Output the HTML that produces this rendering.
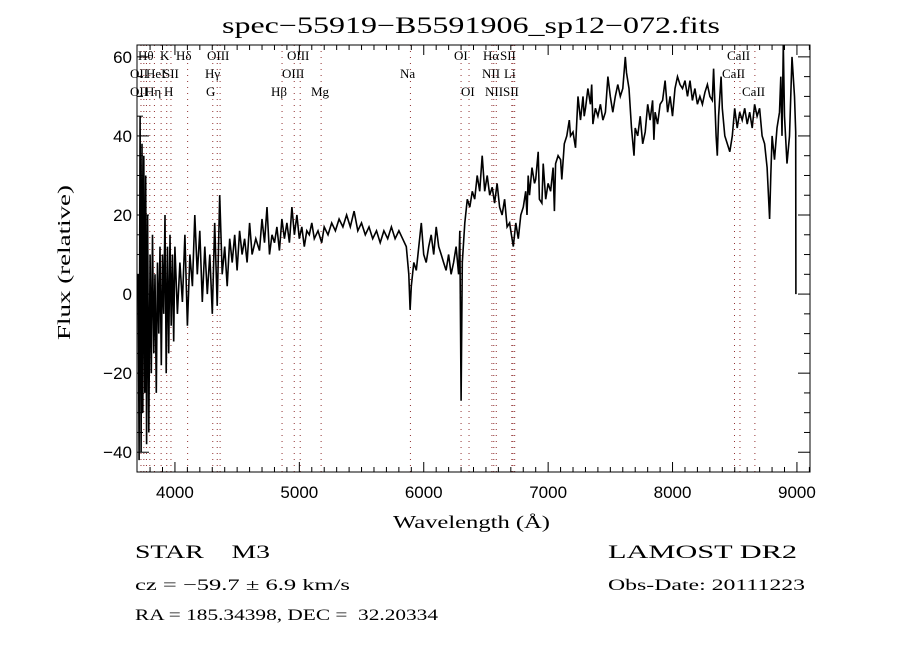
<!DOCTYPE html>
<html><head><meta charset="utf-8"><style>
body{margin:0;background:#fff;width:900px;height:650px;overflow:hidden}
svg{display:block;font-family:"Liberation Serif",serif}
</style></head><body>
<svg id="chart" width="900" height="650">
<rect width="900" height="650" fill="#fff"/>
<text x="222" y="33" textLength="498" lengthAdjust="spacingAndGlyphs" font-size="23">spec−55919−B5591906_sp12−072.fits</text>
<g id="lines"></g>
<g id="series"></g>
<g id="axes"></g>
<text x="393" y="528" textLength="157" lengthAdjust="spacingAndGlyphs" font-size="18">Wavelength (Å)</text>
<text transform="translate(70,340) rotate(-90)" textLength="155" lengthAdjust="spacingAndGlyphs" font-size="18">Flux (relative)</text>
<text x="135" y="558" textLength="135" lengthAdjust="spacingAndGlyphs" font-size="19" xml:space="preserve">STAR    M3</text>
<text x="608" y="558" textLength="189" lengthAdjust="spacingAndGlyphs" font-size="19">LAMOST  DR2</text>
<text x="135" y="590" textLength="215" lengthAdjust="spacingAndGlyphs" font-size="16">cz = −59.7 ± 6.9 km/s</text>
<text x="608" y="590" textLength="197" lengthAdjust="spacingAndGlyphs" font-size="16">Obs-Date: 20111223</text>
<text x="135" y="620" textLength="303" lengthAdjust="spacingAndGlyphs" font-size="16" xml:space="preserve">RA = 185.34398, DEC =  32.20334</text>
</svg>
<script>
const wave=[3705,3712,3720,3728,3735,3742,3750,3758,3765,3772,3780,3790,3800,3810,3820,3830,3840,3850,3860,3870,3880,3890,3900,3910,3920,3930,3940,3950,3960,3970,3980,3990,4000,4020,4040,4060,4080,4100,4120,4140,4160,4180,4200,4220,4240,4260,4280,4300,4320,4340,4360,4380,4400,4420,4440,4460,4480,4500,4520,4540,4560,4580,4600,4620,4650,4680,4700,4720,4740,4760,4780,4800,4820,4840,4860,4880,4900,4920,4940,4960,4980,5000,5020,5040,5060,5080,5100,5120,5150,5180,5200,5230,5260,5290,5320,5350,5380,5410,5440,5470,5500,5530,5560,5590,5620,5650,5680,5710,5740,5770,5800,5830,5860,5880,5890,5900,5920,5940,5960,5980,6000,6020,6040,6060,6080,6100,6120,6140,6160,6180,6200,6220,6240,6260,6280,6290,6300,6310,6330,6350,6370,6390,6410,6430,6450,6470,6490,6510,6530,6550,6570,6590,6610,6630,6650,6670,6690,6700,6720,6740,6760,6780,6800,6820,6830,6840,6850,6870,6890,6900,6920,6930,6950,6960,6980,7000,7020,7040,7050,7060,7080,7100,7110,7130,7150,7170,7180,7200,7220,7240,7260,7280,7290,7300,7320,7340,7350,7360,7380,7400,7420,7440,7460,7480,7500,7520,7540,7560,7580,7600,7620,7630,7650,7670,7690,7700,7720,7740,7760,7780,7800,7820,7840,7850,7860,7880,7900,7920,7940,7960,7980,8000,8020,8040,8060,8080,8100,8120,8140,8160,8180,8200,8220,8240,8260,8280,8300,8320,8330,8350,8360,8370,8390,8400,8420,8440,8460,8480,8500,8520,8540,8560,8580,8600,8620,8640,8660,8680,8700,8720,8740,8760,8780,8790,8800,8820,8840,8860,8870,8880,8890,8900,8920,8940,8960,8980,8990,8992];
const flux=[5,-42,45,-40,38,-30,35,-25,30,-38,20,-35,10,-20,15,-15,5,-25,8,-10,12,-18,10,-5,20,-20,12,-15,15,-8,10,-12,12,-5,8,-2,15,-8,10,2,20,5,16,-2,12,0,10,-5,18,-3,25,5,12,2,14,8,15,6,16,10,14,8,18,10,14,11,19,13,22,10,15,13,17,11,19,14,18,13,22,15,20,14,17,12,16,15,18,14,16,13,17,15,18,16,19,17,20,17,21,16,18,15,17,14,16,13,16,14,17,14,16,14,12,5,-4,2,8,6,12,18,10,8,12,15,10,17,12,10,8,6,10,5,8,12,5,16,-27,8,18,24,22,26,24,30,26,35,26,30,25,27,23,28,22,20,24,17,18,16,12,18,14,20,22,26,20,30,25,32,28,29,36,24,23,33,24,28,26,32,21,33,35,34,29,38,40,44,40,41,37,50,44,50,45,47,52,48,53,43,47,45,48,44,46,55,50,46,50,53,50,52,60,56,52,42,35,42,40,45,38,41,48,44,49,39,46,43,48,49,54,46,50,45,52,55,53,52,54,50,54,49,52,48,50,48,51,53,50,49,57,40,35,45,55,47,40,38,36,40,47,42,46,44,47,43,46,42,48,45,47,40,38,32,19,30,40,34,42,46,55,40,63,45,33,40,60,50,41,0];
const lineWaves=[3727,3750,3771,3798,3835,3889,3934,3968,4102,4304,4340,4363,4861,4959,5007,5175,5893,6300,6364,6548,6563,6583,6708,6717,6731,8498,8542,8662];
const X0=137,X1=810,Y0=45,Y1=472,W0=3695,W1=9105,F0=-45,F1=63;
const sx=w=>X0+(w-W0)/(W1-W0)*(X1-X0);
const sy=f=>Y1-(f-F0)/(F1-F0)*(Y1-Y0);
const NS='http://www.w3.org/2000/svg';
function mk(t,a,p){const e=document.createElementNS(NS,t);for(const k in a)e.setAttribute(k,a[k]);p.appendChild(e);return e;}
const lg=document.getElementById('lines');
lineWaves.forEach(w=>{const l=mk('line',{x1:sx(w),x2:sx(w),y1:Y0,y2:Y1,stroke:'#903030','stroke-width':1,'stroke-dasharray':'1,5'},lg);

});
const labels=[["Hθ",138,60],["K",160,60],["Hδ",176,60],["OIII",207,60],["OIII",287,60],["OI",454,60],["Hα",483,60],["SII",500,60],["CaII",727,60],
["OII",130,78],["HeI",146,78],["SII",163,78],["Hγ",205,78],["OIII",282,78],["Na",400,78],["NII",482,78],["Li",504,78],["CaII",722,78],
["OII",130,96],["Hη",145,96],["H",164,96],["G",206,96],["Hβ",271,96],["Mg",311,96],["OI",461,96],["NII",485,96],["SII",503,96],["CaII",742,96]];
labels.forEach(a=>{const t=mk('text',{x:a[1],y:a[2],'font-size':13},lg);t.textContent=a[0];

});
const sg=document.getElementById('series');
const pts=wave.map((w,i)=>sx(w).toFixed(1)+','+sy(flux[i]).toFixed(1)).join(' ');
const pl=mk('polyline',{points:pts,fill:'none',stroke:'#000','stroke-width':1.6},sg);


const ag=document.getElementById('axes');
const fr=mk('rect',{x:X0,y:Y0,width:X1-X0,height:Y1-Y0,fill:'none',stroke:'#000','stroke-width':1},ag);


for(let w=3800;w<=9100;w+=100){const x=sx(w),L=(w%1000===0)?10:5;
mk('line',{x1:x,x2:x,y1:Y1,y2:Y1-L,stroke:'#000'},ag);mk('line',{x1:x,x2:x,y1:Y0,y2:Y0+L,stroke:'#000'},ag);
if(w%1000===0){const t=mk('text',{x:x,y:Y1+26,'text-anchor':'middle','font-size':17,'font-family':'Liberation Sans, sans-serif'},ag);t.textContent=w;

}}
for(let f=-45;f<=60;f+=5){const y=sy(f),L=(f%20===0)?12:6;
mk('line',{x1:X0,x2:X0+L,y1:y,y2:y,stroke:'#000'},ag);mk('line',{x1:X1,x2:X1-L,y1:y,y2:y,stroke:'#000'},ag);
if(f%20===0){const t=mk('text',{x:X0-5,y:y+6,'text-anchor':'end','font-size':17,'font-family':'Liberation Sans, sans-serif'},ag);t.textContent=f<0?'−'+(-f):f;

}}
</script>
</body></html>
